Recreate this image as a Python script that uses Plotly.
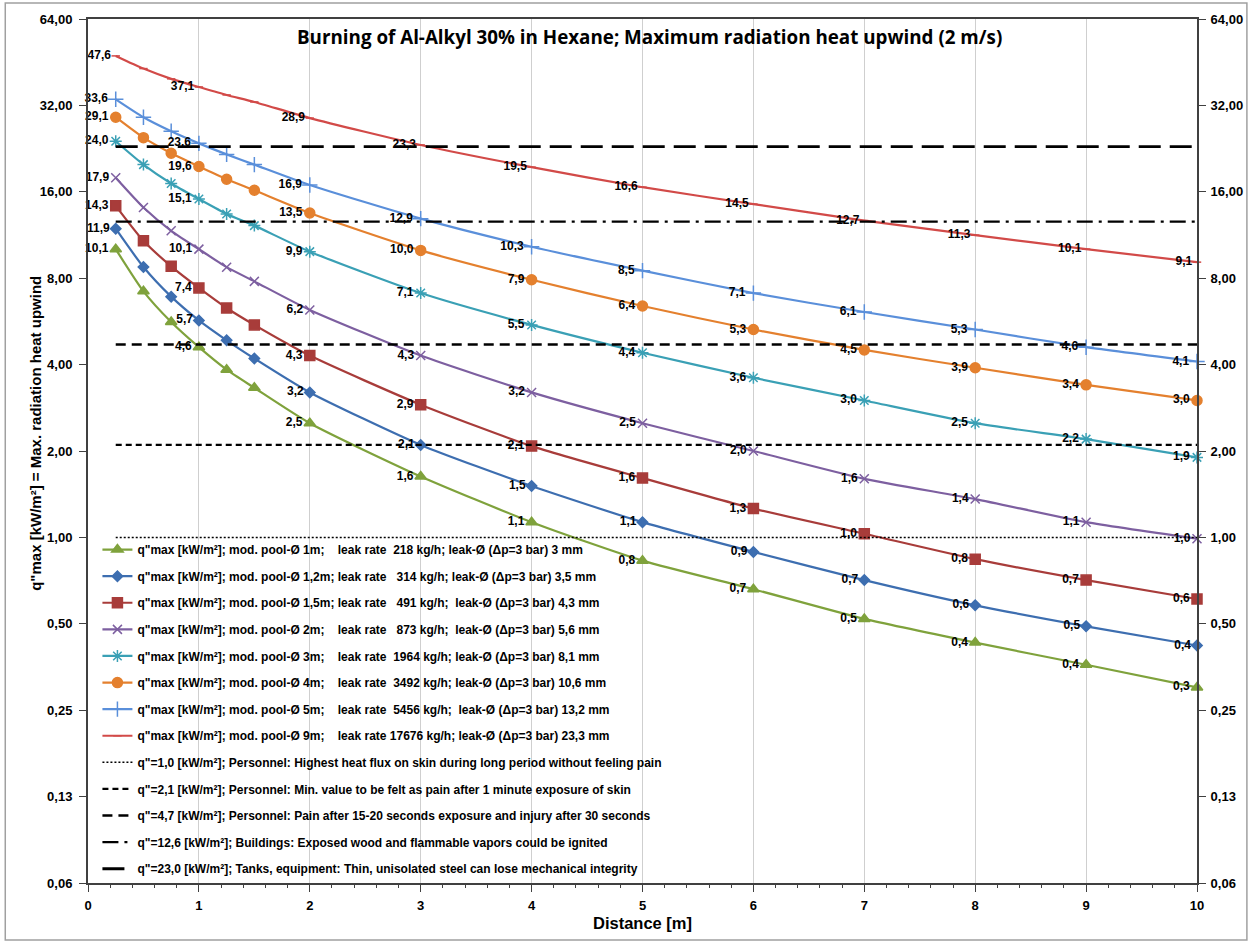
import plotly.graph_objects as go

distance = [0.25, 0.5, 0.75, 1, 1.25, 1.5, 2, 3, 4, 5, 6, 7, 8, 9, 10]
label_at = [0.25, 1, 2, 3, 4, 5, 6, 7, 8, 9, 10]

q_1m = [10.1, 7.2, 5.63, 4.6, 3.84, 3.32, 2.5, 1.63, 1.13, 0.83, 0.66, 0.52, 0.43, 0.36, 0.30]
q_1_2m = [11.9, 8.75, 6.9, 5.7, 4.86, 4.2, 3.2, 2.1, 1.51, 1.13, 0.89, 0.71, 0.58, 0.49, 0.42]
q_1_5m = [14.3, 10.8, 8.8, 7.4, 6.3, 5.5, 4.3, 2.9, 2.08, 1.61, 1.26, 1.03, 0.84, 0.71, 0.61]
q_2m = [17.9, 14.1, 11.7, 10.1, 8.74, 7.8, 6.2, 4.3, 3.2, 2.5, 2.0, 1.6, 1.36, 1.13, 0.99]
q_3m = [24.0, 19.9, 17.1, 15.1, 13.4, 12.2, 9.9, 7.1, 5.5, 4.4, 3.6, 3.0, 2.5, 2.2, 1.9]
q_4m = [29.1, 24.7, 21.8, 19.6, 17.7, 16.2, 13.5, 10.0, 7.9, 6.4, 5.3, 4.5, 3.9, 3.4, 3.0]
q_5m = [33.6, 29.1, 26.0, 23.6, 21.6, 19.9, 16.9, 12.9, 10.3, 8.5, 7.1, 6.1, 5.3, 4.6, 4.1]
q_9m = [47.6, 43.0, 39.6, 37.1, 34.8, 32.9, 28.9, 23.3, 19.5, 16.6, 14.5, 12.7, 11.3, 10.1, 9.1]

series_names = [
    'q"max [kW/m²]; mod. pool-Ø 1m;    leak rate  218 kg/h; leak-Ø (Δp=3 bar) 3 mm',
    'q"max [kW/m²]; mod. pool-Ø 1,2m; leak rate   314 kg/h; leak-Ø (Δp=3 bar) 3,5 mm',
    'q"max [kW/m²]; mod. pool-Ø 1,5m; leak rate   491 kg/h;  leak-Ø (Δp=3 bar) 4,3 mm',
    'q"max [kW/m²]; mod. pool-Ø 2m;    leak rate   873 kg/h;  leak-Ø (Δp=3 bar) 5,6 mm',
    'q"max [kW/m²]; mod. pool-Ø 3m;    leak rate  1964 kg/h; leak-Ø (Δp=3 bar) 8,1 mm',
    'q"max [kW/m²]; mod. pool-Ø 4m;    leak rate  3492 kg/h; leak-Ø (Δp=3 bar) 10,6 mm',
    'q"max [kW/m²]; mod. pool-Ø 5m;    leak rate  5456 kg/h;  leak-Ø (Δp=3 bar) 13,2 mm',
    'q"max [kW/m²]; mod. pool-Ø 9m;    leak rate 17676 kg/h; leak-Ø (Δp=3 bar) 23,3 mm',
]
series_values = [q_1m, q_1_2m, q_1_5m, q_2m, q_3m, q_4m, q_5m, q_9m]
series_colors = ["#7FA23C", "#3D6EB0", "#A83C3A", "#7D5FA0", "#3AA0B5", "#E4802E", "#5A8FDA", "#D24A48"]
series_symbols = ["triangle-up", "diamond", "square", "x-thin-open", "asterisk-open", "circle", "cross-thin-open", "line-ew-open"]
series_msizes = [10, 8, 10, 9, 10, 10, 11, 6]

threshold_values = [1.0, 2.1, 4.7, 12.6, 23.0]
threshold_names = [
    'q"=1,0 [kW/m²]; Personnel: Highest heat flux on skin during long period without feeling pain',
    'q"=2,1 [kW/m²]; Personnel: Min. value to be felt as pain after 1 minute exposure of skin',
    'q"=4,7 [kW/m²]; Personnel: Pain after 15-20 seconds exposure and injury after 30 seconds',
    'q"=12,6 [kW/m²]; Buildings: Exposed wood and flammable vapors could be ignited',
    'q"=23,0 [kW/m²]; Tanks, equipment: Thin, unisolated steel can lose mechanical integrity',
]
threshold_dashes = ["2px,2px", "6px,4px", "10px,6px", "16px,6px,3px,6px", "22px,9px"]
threshold_widths = [1.5, 2.2, 2.4, 2.4, 2.8]
threshold_x = [0.25, 10]

y_tickvals = [0.0625, 0.125, 0.25, 0.5, 1, 2, 4, 8, 16, 32, 64]
y_ticktext = ["0,06", "0,13", "0,25", "0,50", "1,00", "2,00", "4,00", "8,00", "16,00", "32,00", "64,00"]
x_tickvals = [0, 1, 2, 3, 4, 5, 6, 7, 8, 9, 10]

FONT = "Liberation Sans, Arial"
NB = "\u00a0"


def nbsp(s):
    return s.replace("  ", NB + NB).replace(NB + " ", NB + NB)


def fmt(v):
    return ("%.1f" % v).replace(".", ",")


fig = go.Figure()

for name, vals, col, sym, ms in zip(series_names, series_values, series_colors, series_symbols, series_msizes):
    texts = [fmt(v) if x in label_at else "" for x, v in zip(distance, vals)]
    fig.add_trace(go.Scatter(
        x=distance, y=vals, name=nbsp(name), legendgroup=name,
        mode="lines+markers+text",
        line=dict(color=col, width=2.2, shape="spline", smoothing=0.6),
        marker=dict(symbol=sym, size=ms, color=col, line=dict(color=col, width=1.5)),
        text=texts, textposition="middle left",
        textfont=dict(family=FONT, size=12, color="black", weight="bold"),
        cliponaxis=False,
    ))

for name, v, dash, w in zip(threshold_names, threshold_values, threshold_dashes, threshold_widths):
    fig.add_trace(go.Scatter(
        x=threshold_x, y=[v, v], name=nbsp(name), legendgroup=name,
        mode="lines", line=dict(color="black", width=w, dash=dash),
    ))

# invisible trace for the right axis
fig.add_trace(go.Scatter(x=[0], y=[1], yaxis="y2", mode="markers",
                         marker=dict(opacity=0), showlegend=False, hoverinfo="skip"))

yrange = [-1.2041, 1.80618]
axis_font = dict(family=FONT, size=13, color="black", weight="bold")

fig.update_layout(
    width=1255, height=947,
    margin=dict(l=88, r=55, t=19, b=64),
    paper_bgcolor="white", plot_bgcolor="white",
    showlegend=True,
    legend=dict(
        x=0.0085, y=0.4027, xanchor="left", yanchor="top",
        bgcolor="rgba(0,0,0,0)", borderwidth=0,
        font=dict(family=FONT, size=12, color="black", weight="bold"),
        traceorder="grouped", tracegroupgap=7.6,
        itemwidth=30,
    ),
    xaxis=dict(
        range=[0, 10], tickvals=x_tickvals, ticks="outside", ticklen=7,
        tickcolor="#404040", showgrid=True, gridcolor="#CFCFCF", gridwidth=1,
        showline=True, linecolor="#404040", linewidth=2, mirror=True,
        tickfont=axis_font, zeroline=False, ticklabelstandoff=2,
        minor=dict(dtick=0.2, ticks="outside", ticklen=3, tickcolor="#404040", showgrid=False),
    ),
    yaxis=dict(
        type="log", range=yrange, tickvals=y_tickvals, ticktext=y_ticktext,
        ticks="outside", ticklen=7, tickcolor="#404040",
        showgrid=False, showline=True, linecolor="#404040", linewidth=2,
        tickfont=axis_font, zeroline=False, ticklabelstandoff=4,
    ),
    yaxis2=dict(
        type="log", range=yrange, tickvals=y_tickvals, ticktext=y_ticktext,
        overlaying="y", side="right", anchor="x",
        ticks="outside", ticklen=7, tickcolor="#404040",
        showgrid=False, showline=True, linecolor="#404040", linewidth=2,
        tickfont=axis_font, zeroline=False, ticklabelstandoff=2,
    ),
    annotations=[
        dict(text="Burning of Al-Alkyl 30% in Hexane; Maximum radiation heat upwind (2 m/s)",
             xref="paper", yref="paper", x=0.506, y=0.979, xanchor="center", yanchor="middle",
             showarrow=False, font=dict(family="Open Sans, Lato", size=18.8, color="black", weight="bold")),
        dict(text='q"max [kW/m²] = Max. radiation heat upwind',
             xref="paper", yref="paper", x=-0.0468, y=0.520, xanchor="center", yanchor="middle",
             textangle=-90, showarrow=False,
             font=dict(family=FONT, size=15, color="black", weight="bold")),
        dict(text="Distance [m]",
             xref="paper", yref="paper", x=0.5, y=-0.0463, xanchor="center", yanchor="middle",
             showarrow=False, font=dict(family=FONT, size=16.5, color="black", weight="bold")),
    ],
    shapes=[dict(
        type="rect", xref="paper", yref="paper",
        x0=-0.0746, x1=1.045, y0=-0.066, y1=1.0185,
        line=dict(color="#A0A0A0", width=1.5), fillcolor="rgba(0,0,0,0)", layer="below",
    )],
)

fig.write_html("out.html", config={"displayModeBar": False},
               post_script="document.body.style.margin='0px';")
